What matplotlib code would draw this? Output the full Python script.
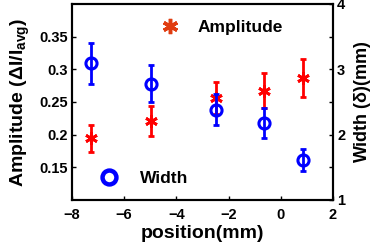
import matplotlib
matplotlib.use("Agg")
import matplotlib.pyplot as plt
from matplotlib.lines import Line2D

plt.rcParams['font.family'] = ['Liberation Sans', 'DejaVu Sans']
plt.rcParams['font.weight'] = 'bold'
plt.rcParams['mathtext.fontset'] = 'custom'
plt.rcParams['mathtext.bf'] = 'Liberation Sans:bold'
plt.rcParams['mathtext.rm'] = 'Liberation Sans:bold'
plt.rcParams['mathtext.default'] = 'bf'

# data
position = [-7.28, -4.97, -2.47, -0.63, 0.84]
amplitude = [0.194, 0.221, 0.256, 0.267, 0.286]
amp_err = [0.020, 0.0225, 0.025, 0.027, 0.029]
width = [3.09, 2.78, 2.38, 2.17, 1.61]
width_err = [0.315, 0.28, 0.24, 0.23, 0.17]

xticks = [-8, -6, -4, -2, 0, 2]
left_ticks = [0.15, 0.2, 0.25, 0.3, 0.35]
left_ticklabels = ['0.15', '0.2', '0.25', '0.3', '0.35']
right_ticks = [1, 2, 3, 4]

fig = plt.figure(figsize=(3.74, 2.48), dpi=100)
ax = fig.add_axes([0.1925, 0.194, 0.6975, 0.79])
ax2 = ax.twinx()

# amplitude (left axis)
ax.errorbar(position, amplitude, yerr=amp_err, fmt='none', ecolor='red',
            elinewidth=2, capsize=2, capthick=2, zorder=3)
ax.plot(position, amplitude, linestyle='none', marker=(6, 2, 0), ms=9,
        mec='red', mew=2, zorder=4)

# width (right axis)
ax2.errorbar(position, width, yerr=width_err, fmt='none', ecolor='blue',
             elinewidth=2, capsize=2, capthick=2, zorder=3)
ax2.plot(position, width, linestyle='none', marker='o', ms=8, mfc='none',
         mec='blue', mew=2.2, zorder=4)

ax.set_xlim(-8, 2)
ax.set_ylim(0.1, 0.4)
ax2.set_ylim(1, 4)
ax.set_xticks(xticks)
ax.set_xticklabels(['\u22128', '\u22126', '\u22124', '\u22122', '0', '2'])
ax.set_yticks(left_ticks)
ax.set_yticklabels(left_ticklabels)
ax2.set_yticks(right_ticks)

for a in (ax, ax2):
    a.tick_params(direction='in', length=3, width=1, labelsize=10.5, pad=3)
    for s in a.spines.values():
        s.set_linewidth(1.5)
ax.tick_params(axis='x', pad=6)
ax2.set_yticks([1.5, 2.5, 3.5], minor=True)
ax2.tick_params(which='minor', direction='in', length=3, width=1)

ax.set_xlabel('position(mm)', fontsize=14, fontweight='bold', labelpad=2)
ax.set_ylabel('Amplitude ($\\Delta$I/I$_{avg}$)', fontsize=14,
              fontweight='bold', labelpad=5)
ax2.set_ylabel('Width ($\\delta$)(mm)', fontsize=13, fontweight='bold',
               labelpad=5)

h_amp = Line2D([], [], linestyle='none', marker=(6, 2, 0), ms=11,
               mec='#e03c10', mew=2.5)
h_w = Line2D([], [], linestyle='none', marker='o', ms=10, mfc='none',
             mec='blue', mew=3.2)
leg1 = ax2.legend([h_amp], ['Amplitude'], loc='upper left',
                  bbox_to_anchor=(0.25, 1.0), frameon=False, fontsize=12.5,
                  handletextpad=0.6)
ax2.add_artist(leg1)
ax2.legend([h_w], ['Width'], loc='lower left', bbox_to_anchor=(0.015, -0.01),
           frameon=False, fontsize=12.5, handletextpad=0.8)

fig.savefig('out.png', dpi=100)
